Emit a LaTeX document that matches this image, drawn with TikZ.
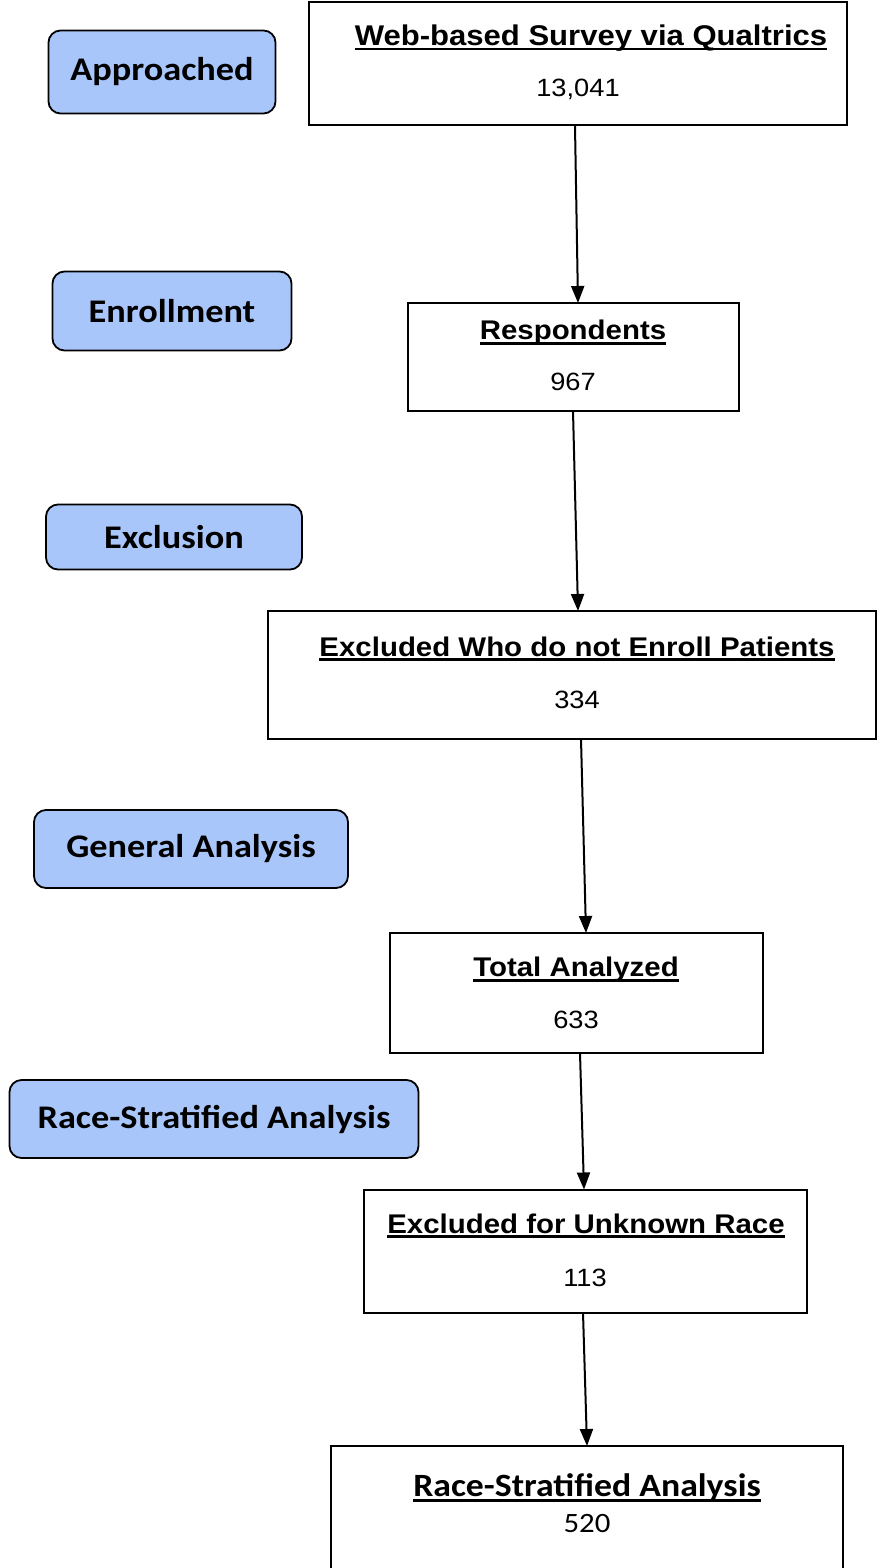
\documentclass[tikz,border=0pt]{standalone}
\usepackage{fontspec}
\setmainfont{Liberation Sans}[FakeStretch=1.09]
\newfontfamily\carlito{Carlito}[FakeStretch=1.1]
\usepackage{tikz}
\usetikzlibrary{arrows.meta,positioning}
\definecolor{stageblue}{RGB}{169,198,250}
\newcommand\titleul[1]{\setbox0\hbox{#1}\rlap{\rule[-5pt]{\wd0}{2.8pt}}\box0}

\begin{document}
\begin{tikzpicture}[x=1pt, y=-1pt,
  every node/.style={inner sep=0pt, outer sep=0pt},
  stage/.style={draw, rounded corners=12pt, line width=1.8pt, fill=stageblue,
                font=\carlito\bfseries\fontsize{33}{38}\selectfont},
  flowbox/.style={draw, line width=2pt, fill=white},
  ttl/.style={font=\bfseries\fontsize{27}{32}\selectfont},
  cnt/.style={font=\fontsize{25}{30}\selectfont},
  arr/.style={-{Triangle[length=17pt, width=13pt]}, line width=2pt}
]
\useasboundingbox (0,0) rectangle (877,1568);

% stages on the left
\node[stage, minimum width=227pt, minimum height=83pt] (sApp) at (162,72) {Approached};
\node[stage, minimum width=239pt, minimum height=79pt] (sEnr) at (172,311) {Enrollment};
\node[stage, minimum width=256pt, minimum height=65pt] (sExc) at (174,537) {Exclusion};
\node[stage, minimum width=314pt, minimum height=78pt] (sGen) at (191,849) {General Analysis};
\node[stage, minimum width=409pt, minimum height=78pt] (sRace) at (214,1119) {Race-Stratified Analysis};

% flow boxes
\node[flowbox, minimum width=538pt, minimum height=123pt] (bWeb) at (578,64) {};
\node[ttl, font=\bfseries\fontsize{28.5}{32}\selectfont] (tWeb) at (591,38) {\titleul{Web-based Survey via Qualtrics}};
\node[cnt] (nWeb) at (578,89) {13,041};

\node[flowbox, minimum width=331pt, minimum height=108pt] (bResp) at (573,357) {};
\node[ttl] (tResp) at (573,333) {\titleul{Respondents}};
\node[cnt] (nResp) at (573,382) {967};

\node[flowbox, minimum width=608pt, minimum height=128pt] (bExcl) at (572,675) {};
\node[ttl] (tExcl) at (577,649) {\titleul{Excluded Who do not Enroll Patients}};
\node[cnt] (nExcl) at (577,700) {334};

\node[flowbox, minimum width=373pt, minimum height=120pt] (bTot) at (576,993) {};
\node[ttl] (tTot) at (576,970) {\titleul{Total Analyzed}};
\node[cnt] (nTot) at (576,1020) {633};

\node[flowbox, minimum width=443pt, minimum height=123pt] (bUnk) at (585,1251) {};
\node[ttl] (tUnk) at (586,1226) {\titleul{Excluded for Unknown Race}};
\node[cnt] (nUnk) at (585,1278) {113};

\node[flowbox, minimum width=512pt, minimum height=160pt] (bRace) at (587,1526) {};
\node[font=\carlito\bfseries\fontsize{32.5}{38}\selectfont] (tRace) at (587,1488) {\titleul{Race-Stratified Analysis}};
\node[font=\carlito\fontsize{28}{32}\selectfont] (nRace) at (587,1523) {520};

% connectors
\draw[arr] (575,126) -- (bResp.north -| 578,0);
\draw[arr] (bResp.south -| 573,0) -- (bExcl.north -| 578,0);
\draw[arr] (bExcl.south -| 581,0) -- (bTot.north -| 586,0);
\draw[arr] (bTot.south -| 580,0) -- (bUnk.north -| 584,0);
\draw[arr] (bUnk.south -| 583,0) -- (bRace.north -| 587,0);
\end{tikzpicture}
\end{document}
